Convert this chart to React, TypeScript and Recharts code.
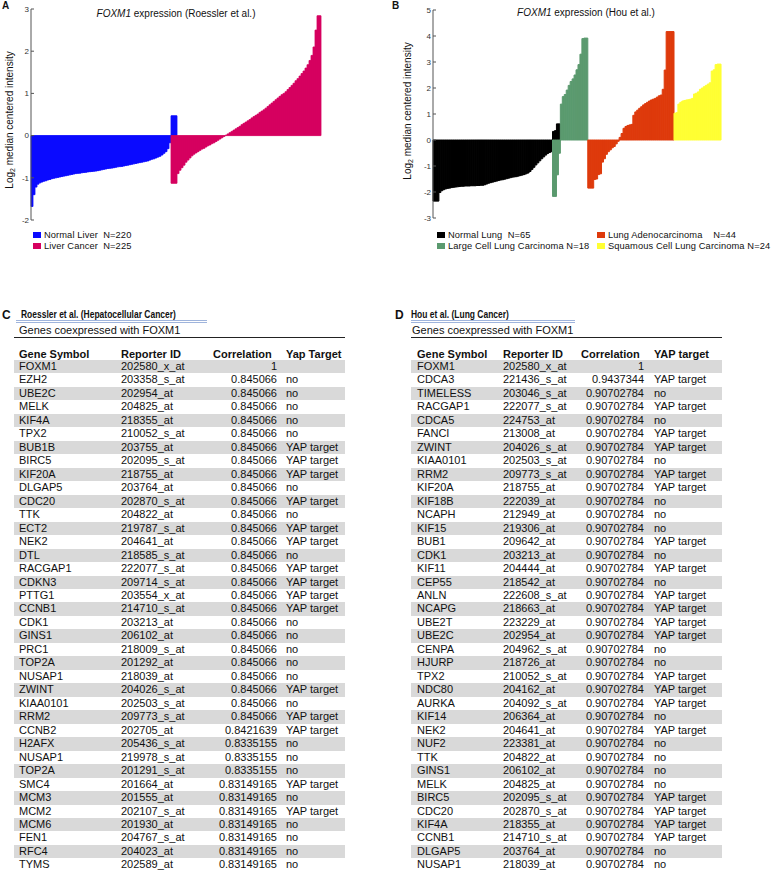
import { BarChart, Bar, XAxis, YAxis } from 'recharts'

// Panel A, Roessler et al. (one value per ~3 samples)
const liverNormal = [
  -1.68, -1.4, -1.22, -1.15, -1.12, -1.1, -1.08, -1.07, -1.05, -1.04,
  -1.02, -1.01, -1.0, -0.99, -0.98, -0.97, -0.96, -0.95, -0.94, -0.93,
  -0.92, -0.91, -0.9, -0.895, -0.89, -0.88, -0.875, -0.87, -0.86, -0.855,
  -0.85, -0.845, -0.84, -0.83, -0.82, -0.81, -0.8, -0.79, -0.78, -0.775,
  -0.77, -0.76, -0.75, -0.74, -0.735, -0.73, -0.72, -0.71, -0.7, -0.69,
  -0.68, -0.67, -0.66, -0.65, -0.64, -0.63, -0.62, -0.61, -0.6, -0.58,
  -0.56, -0.55, -0.53, -0.51, -0.49, -0.46, -0.42, -0.38, -0.31, -0.17,
  0.47, 0.47, 0.47,
]
const liverCancer = [
  -1.13, -1.13, -1.13, -0.9, -0.82, -0.76, -0.7, -0.63, -0.58, -0.53,
  -0.48, -0.44, -0.41, -0.38, -0.35, -0.32, -0.3, -0.27, -0.24, -0.22,
  -0.19, -0.17, -0.14, -0.11, -0.08, -0.05, -0.02, 0.01, 0.04, 0.07,
  0.1, 0.13, 0.16, 0.19, 0.22, 0.26, 0.29, 0.32, 0.35, 0.38,
  0.42, 0.45, 0.48, 0.51, 0.55, 0.58, 0.61, 0.65, 0.69, 0.73,
  0.77, 0.81, 0.85, 0.89, 0.93, 0.97, 1.0, 1.04, 1.09, 1.14,
  1.19, 1.24, 1.3, 1.35, 1.41, 1.47, 1.53, 1.6, 1.68, 1.78,
  1.9, 2.1, 2.5, 2.84, 2.84,
]
const liverTicks = [-2, -1, 0, 1, 2, 3]

// Panel B, Hou et al.
const lungNormal = [
  -2.35, -2.35, -2.35, -2.02, -1.95, -1.91, -1.88, -1.86, -1.85, -1.83,
  -1.82, -1.81, -1.8, -1.79, -1.78, -1.78, -1.77, -1.77, -1.77, -1.76,
  -1.76, -1.76, -1.75, -1.75, -1.74, -1.74, -1.72, -1.69, -1.66, -1.64,
  -1.62, -1.6, -1.58, -1.56, -1.54, -1.53, -1.51, -1.49, -1.47, -1.45,
  -1.43, -1.42, -1.41, -1.39, -1.37, -1.35, -1.33, -1.3, -1.27, -1.21,
  -1.13, -1.05, -0.96, -0.88, -0.8, -0.72, -0.65, -0.58, -0.52, -0.48,
  -0.45, 0.33, 0.36, 0.62, 0.62,
]
const lungLarge = [
  -2.17, -2.17, -1.34, -0.51, 1.38, 1.67, 1.75, 1.92, 2.1, 2.25,
  2.35, 2.5, 2.7, 2.9, 3.3, 3.9, 3.92, 3.92,
]
const lungAdeno = [
  -1.85, -1.85, -1.85, -1.52, -1.5, -1.33, -1.3, -0.85, -0.72, -0.55,
  -0.45, -0.38, -0.3, -0.25, -0.15, -0.05, 0.1, 0.25, 0.45, 0.52,
  0.56, 0.58, 0.6, 0.95, 1.08, 1.15, 1.22, 1.28, 1.35, 1.4,
  1.45, 1.5, 1.54, 1.57, 1.6, 1.65, 1.7, 1.73, 1.95, 2.69,
  4.17, 4.17, 4.17, 4.17,
]
const lungSquamous = [
  1.03, 1.05, 1.38, 1.45, 1.5, 1.52, 1.54, 1.55, 1.57, 1.6,
  1.77, 1.8, 1.85, 1.95, 2.0, 2.05, 2.1, 2.15, 2.2, 2.65,
  2.7, 2.9, 2.92, 2.92,
]
const lungTicks = [-3, -2, -1, 0, 1, 2, 3, 4, 5]

// Panel C
const rGenes = ['FOXM1', 'EZH2', 'UBE2C', 'MELK', 'KIF4A', 'TPX2', 'BUB1B', 'BIRC5', 'KIF20A', 'DLGAP5', 'CDC20', 'TTK', 'ECT2', 'NEK2', 'DTL', 'RACGAP1', 'CDKN3', 'PTTG1', 'CCNB1', 'CDK1', 'GINS1', 'PRC1', 'TOP2A', 'NUSAP1', 'ZWINT', 'KIAA0101', 'RRM2', 'CCNB2', 'H2AFX', 'NUSAP1', 'TOP2A', 'SMC4', 'MCM3', 'MCM2', 'MCM6', 'FEN1', 'RFC4', 'TYMS']
const rReporters = ['202580_x_at', '203358_s_at', '202954_at', '204825_at', '218355_at', '210052_s_at', '203755_at', '202095_s_at', '218755_at', '203764_at', '202870_s_at', '204822_at', '219787_s_at', '204641_at', '218585_s_at', '222077_s_at', '209714_s_at', '203554_x_at', '214710_s_at', '203213_at', '206102_at', '218009_s_at', '201292_at', '218039_at', '204026_s_at', '202503_s_at', '209773_s_at', '202705_at', '205436_s_at', '219978_s_at', '201291_s_at', '201664_at', '201555_at', '202107_s_at', '201930_at', '204767_s_at', '204023_at', '202589_at']
const rCorr = ['1', '0.845066', '0.845066', '0.845066', '0.845066', '0.845066', '0.845066', '0.845066', '0.845066', '0.845066', '0.845066', '0.845066', '0.845066', '0.845066', '0.845066', '0.845066', '0.845066', '0.845066', '0.845066', '0.845066', '0.845066', '0.845066', '0.845066', '0.845066', '0.845066', '0.845066', '0.845066', '0.8421639', '0.8335155', '0.8335155', '0.8335155', '0.83149165', '0.83149165', '0.83149165', '0.83149165', '0.83149165', '0.83149165', '0.83149165']
const rYap = ['', 'no', 'no', 'no', 'no', 'no', 'YAP target', 'YAP target', 'YAP target', 'no', 'YAP target', 'no', 'YAP target', 'YAP target', 'no', 'YAP target', 'YAP target', 'YAP target', 'YAP target', 'no', 'no', 'no', 'no', 'no', 'YAP target', 'no', 'YAP target', 'YAP target', 'no', 'no', 'no', 'YAP target', 'no', 'YAP target', 'no', 'no', 'no', 'no']

// Panel D
const hGenes = ['FOXM1', 'CDCA3', 'TIMELESS', 'RACGAP1', 'CDCA5', 'FANCI', 'ZWINT', 'KIAA0101', 'RRM2', 'KIF20A', 'KIF18B', 'NCAPH', 'KIF15', 'BUB1', 'CDK1', 'KIF11', 'CEP55', 'ANLN', 'NCAPG', 'UBE2T', 'UBE2C', 'CENPA', 'HJURP', 'TPX2', 'NDC80', 'AURKA', 'KIF14', 'NEK2', 'NUF2', 'TTK', 'GINS1', 'MELK', 'BIRC5', 'CDC20', 'KIF4A', 'CCNB1', 'DLGAP5', 'NUSAP1']
const hReporters = ['202580_x_at', '221436_s_at', '203046_s_at', '222077_s_at', '224753_at', '213008_at', '204026_s_at', '202503_s_at', '209773_s_at', '218755_at', '222039_at', '212949_at', '219306_at', '209642_at', '203213_at', '204444_at', '218542_at', '222608_s_at', '218663_at', '223229_at', '202954_at', '204962_s_at', '218726_at', '210052_s_at', '204162_at', '204092_s_at', '206364_at', '204641_at', '223381_at', '204822_at', '206102_at', '204825_at', '202095_s_at', '202870_s_at', '218355_at', '214710_s_at', '203764_at', '218039_at']
const hCorr = ['1', '0.9437344', ...Array(36).fill('0.90702784')]
const hYap = ['', 'YAP target', 'no', 'YAP target', 'no', 'YAP target', 'YAP target', 'no', 'YAP target', 'YAP target', 'no', 'no', 'no', 'YAP target', 'no', 'YAP target', 'no', 'YAP target', 'YAP target', 'YAP target', 'YAP target', 'no', 'no', 'YAP target', 'YAP target', 'YAP target', 'no', 'YAP target', 'no', 'no', 'no', 'no', 'YAP target', 'YAP target', 'YAP target', 'YAP target', 'no', 'no']

const FONT = '"Liberation Sans", Arial, sans-serif'

function place(groups: { key: string; values: number[]; start: number }[]) {
  const len = Math.max(...groups.map(g => g.start + g.values.length))
  return Array.from({ length: len }, (_, i) => {
    const row: Record<string, number | null> = { i }
    groups.forEach(g => {
      const v = g.values[i - g.start]
      row[g.key] = v === undefined ? null : v
    })
    return row
  })
}

const liverData = place([
  { key: 'normal', values: liverNormal, start: 0 },
  { key: 'cancer', values: liverCancer, start: 70 },
])
const lungData = place([
  { key: 'normal', values: lungNormal, start: 0 },
  { key: 'large', values: lungLarge, start: 61 },
  { key: 'adeno', values: lungAdeno, start: 79 },
  { key: 'squamous', values: lungSquamous, start: 123 },
])

const abs = (left: number, top: number, extra: React.CSSProperties = {}): React.CSSProperties => ({
  position: 'absolute', left, top, whiteSpace: 'pre', ...extra,
})

function YLabel({ x, y }: { x: number; y: number }) {
  return (
    <div style={abs(x, y, { fontSize: 10, transform: 'translate(-50%, -50%) rotate(-90deg)', lineHeight: '12px' })}>
      Log<span style={{ fontSize: 7, position: 'relative', top: 2 }}>2</span> median centered intensity
    </div>
  )
}

function Legend({ x, y, items }: { x: number; y: number; items: { c: string; t: string; dx: number; dy: number }[] }) {
  return (
    <>
      {items.map(it => (
        <div key={it.t} style={abs(x + it.dx, y + it.dy, { fontSize: 9.3, lineHeight: '10px', height: 10, display: 'flex', alignItems: 'center', letterSpacing: 0.1 })}>
          <span style={{ display: 'inline-block', width: 8, height: 6, background: it.c, marginRight: 3 }} />
          {it.t}
        </div>
      ))}
    </>
  )
}

function GeneTable(props: {
  left: number; width: number; letter: string; letterX: number; title: string; titleDx: number
  lineDx: number; lineW: number; subDx: number
  cols: [number, number, number, number]; corrRight: number
  yapHead: string; genes: string[]; reps: string[]; corr: string[]; yap: string[]
}) {
  const { left, width, letter, letterX, title, titleDx, lineDx, lineW, subDx, cols, corrRight, yapHead, genes, reps, corr, yap } = props
  const pitch = 13.47
  const top0 = 360
  return (
    <>
      <div style={abs(letterX, 308, { fontSize: 12, fontWeight: 700 })}>{letter}</div>
      <div style={abs(left + titleDx, 308, { fontSize: 11, fontWeight: 700, transform: 'scaleX(0.77)', transformOrigin: 'left center' })}>{title}</div>
      <div style={abs(left + lineDx, 320, { width: lineW, height: 0, borderTop: '1px solid #9fb4dc', borderBottom: '1px solid #9fb4dc', paddingTop: 1 })} />
      <div style={abs(left + subDx, 324, { fontSize: 11 })}>Genes coexpressed with FOXM1</div>
      <div style={abs(left, 336.5, { width, height: 0, borderTop: '1px solid #222' })} />
      <div style={abs(left + cols[0], 348, { fontSize: 11, fontWeight: 700 })}>Gene Symbol</div>
      <div style={abs(left + cols[1], 348, { fontSize: 11, fontWeight: 700 })}>Reporter ID</div>
      <div style={abs(left + cols[2], 348, { fontSize: 11, fontWeight: 700 })}>Correlation</div>
      <div style={abs(left + cols[3], 348, { fontSize: 11, fontWeight: 700 })}>{yapHead}</div>
      {genes.map((g, i) => (
        <div key={i} style={abs(left, top0 + i * pitch, { width, height: pitch, background: i % 2 === 0 ? '#d9d9d9' : 'transparent', fontSize: 11, lineHeight: `${pitch}px`, color: '#111' })}>
          <span style={abs(cols[0], 0)}>{g}</span>
          <span style={abs(cols[1], 0)}>{reps[i]}</span>
          <span style={abs(0, 0, { width: corrRight, textAlign: 'right' })}>{corr[i]}</span>
          <span style={abs(cols[3], 0)}>{yap[i]}</span>
        </div>
      ))}
    </>
  )
}

const tickStyle = { fontSize: 8, fill: '#333', fontFamily: FONT }

export default function App() {
  return (
    <div style={{ position: 'absolute', left: 0, top: 0, width: 775, height: 882, background: '#fff', fontFamily: FONT, color: '#111' }}>
      {/* Panel A */}
      <div style={abs(2, 0, { fontSize: 10, fontWeight: 700 })}>A</div>
      <div style={abs(176, 8, { fontSize: 10, transform: 'translateX(-50%)' })}>
        <i>FOXM1</i> expression (Roessler et al.)
      </div>
      <YLabel x={10} y={120} />
      <div style={abs(0, 0)}>
        <BarChart width={340} height={230} data={liverData} stackOffset="sign" barCategoryGap={0} barGap={0}
          margin={{ top: 9, right: 19, bottom: 10, left: 0 }}>
          <XAxis dataKey="i" hide />
          <YAxis width={31} domain={[-2, 3]} ticks={liverTicks} interval={0} allowDataOverflow
            tickSize={-3} tickMargin={5} tick={tickStyle} axisLine={{ stroke: '#555' }} tickLine={{ stroke: '#555' }} />
          <Bar dataKey="normal" stackId="s" fill="#0a0aff" stroke="#0a0aff" strokeWidth={0.8} isAnimationActive={false} />
          <Bar dataKey="cancer" stackId="s" fill="#d6005f" stroke="#d6005f" strokeWidth={0.8} isAnimationActive={false} />
        </BarChart>
      </div>
      <Legend x={33} y={230} items={[
        { c: '#0a0aff', t: 'Normal Liver  N=220', dx: 0, dy: 0 },
        { c: '#d6005f', t: 'Liver Cancer  N=225', dx: 0, dy: 10.5 },
      ]} />

      {/* Panel B */}
      <div style={abs(392, 0, { fontSize: 10, fontWeight: 700 })}>B</div>
      <div style={abs(586, 7, { fontSize: 10, transform: 'translateX(-50%)' })}>
        <i>FOXM1</i> expression (Hou et al.)
      </div>
      <YLabel x={408} y={111} />
      <div style={abs(390, 0)}>
        <BarChart width={385} height={230} data={lungData} stackOffset="sign" barCategoryGap={0} barGap={0}
          margin={{ top: 10, right: 54, bottom: 12, left: 0 }}>
          <XAxis dataKey="i" hide />
          <YAxis width={43} domain={[-3, 5]} ticks={lungTicks} interval={0} allowDataOverflow
            tickSize={-3} tickMargin={5} tick={tickStyle} axisLine={{ stroke: '#555' }} tickLine={{ stroke: '#555' }} />
          <Bar dataKey="normal" stackId="s" fill="#000" stroke="#000" strokeWidth={1} isAnimationActive={false} />
          <Bar dataKey="large" stackId="s" fill="#5b9a6f" stroke="#5b9a6f" strokeWidth={1} isAnimationActive={false} />
          <Bar dataKey="adeno" stackId="s" fill="#de3a0c" stroke="#de3a0c" strokeWidth={1} isAnimationActive={false} />
          <Bar dataKey="squamous" stackId="s" fill="#ffff33" stroke="#ffff33" strokeWidth={1} isAnimationActive={false} />
        </BarChart>
      </div>
      <Legend x={437} y={230} items={[
        { c: '#000', t: 'Normal Lung  N=65', dx: 0, dy: 0 },
        { c: '#5b9a6f', t: 'Large Cell Lung Carcinoma N=18', dx: 0, dy: 10.5 },
        { c: '#de3a0c', t: 'Lung Adenocarcinoma    N=44', dx: 160, dy: 0 },
        { c: '#ffff33', t: 'Squamous Cell Lung Carcinoma N=24', dx: 160, dy: 10.5 },
      ]} />

      <GeneTable left={14} width={331} letter="C" letterX={2} title="Roessler et al. (Hepatocellular Cancer)" titleDx={7}
        lineDx={2} lineW={191} subDx={5}
        cols={[5, 107, 199, 272]} corrRight={263} yapHead="Yap Target"
        genes={rGenes} reps={rReporters} corr={rCorr} yap={rYap} />
      <GeneTable left={411} width={311} letter="D" letterX={395} title="Hou et al. (Lung Cancer)" titleDx={0}
        lineDx={0} lineW={164} subDx={1}
        cols={[6, 92, 170, 243]} corrRight={233} yapHead="YAP target"
        genes={hGenes} reps={hReporters} corr={hCorr} yap={hYap} />
    </div>
  )
}
